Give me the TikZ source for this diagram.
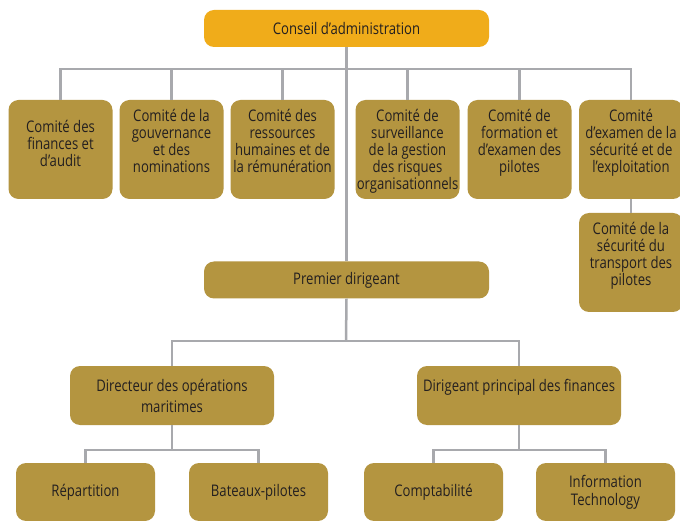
\documentclass[tikz,border=0pt]{standalone}
\usepackage{fontspec}
\setmainfont[FakeStretch=0.82]{Open Sans}
\definecolor{gold}{RGB}{180,149,64}
\definecolor{orangebox}{RGB}{240,172,26}
\definecolor{linegray}{RGB}{168,169,173}
\definecolor{txt}{RGB}{35,31,32}
\newcommand\ctxt[2][0pt]{\parbox[c][80pt][t]{104pt}{\centering\vspace*{#1}#2\par}}
\begin{document}
\begin{tikzpicture}[x=1pt,y=-1pt,
  box/.style={draw=none,fill=gold,rounded corners=10pt,inner sep=0pt,align=center,
    text=txt,font=\fontsize{16}{17}\selectfont},
  comm/.style={box,minimum width=101pt,minimum height=99pt},
  mid/.style={box,minimum width=204pt,minimum height=59pt},
  leaf/.style={box,minimum width=139pt,minimum height=58pt},
  wide/.style={box,minimum width=285pt,minimum height=37pt},
  conn/.style={draw=linegray,line width=2.5pt}]
\useasboundingbox (0,0) rectangle (680,521);
\fill[white] (0,0) rectangle (680,521);
\node[wide,fill=orangebox] (ca) at (346.5,28.5) {Conseil d’administration};
\node[comm] (c1) at (60.5,149.5) {\ctxt[11pt]{Comité des\\finances et\\d’audit}};
\node[comm] (c2) at (171.5,149.5) {\ctxt{Comité de la\\gouvernance\\et des\\nominations}};
\node[comm] (c3) at (282.5,149.5) {\ctxt{Comité des\\ressources\\humaines et de\\la rémunération}};
\node[comm] (c4) at (407.5,149.5) {\ctxt{Comité de\\surveillance\\de la gestion\\des risques\\organisationnels}};
\node[comm] (c5) at (519.5,149.5) {\ctxt{Comité de\\formation et\\d’examen des\\pilotes}};
\node[comm] (c6) at (631,149.5) {\ctxt{Comité\\d’examen de la\\sécurité et de\\l’exploitation}};
\node[comm] (c7) at (631,262.5) {\ctxt{Comité de la\\sécurité du\\transport des\\pilotes}};
\node[wide] (pd) at (346.5,280) {Premier dirigeant};
\node[mid,font=\fontsize{16}{21}\selectfont] (dom) at (172,395.5) {Directeur des opérations\\maritimes};
\node[mid,font=\fontsize{16}{21}\selectfont] (dpf) at (519,395.5) {Dirigeant principal des finances\\\mbox{}};
\node[leaf] (rep) at (85.5,492) {Répartition};
\node[leaf] (bat) at (258.5,492) {Bateaux-pilotes};
\node[leaf] (cpt) at (433.5,492) {Comptabilité};
\node[leaf,font=\fontsize{16}{18}\selectfont] (it) at (605.5,492) {Information\\Technology};
\coordinate (bar) at (346,69);
\coordinate (bar2) at (346,341);
\coordinate (bar3) at (172,450);
\coordinate (bar4) at (519,450);
\draw[conn] (ca.south) -- (pd.north);
\draw[conn] (c1.north) -- (c1.north |- bar) -- (c6.north |- bar) -- (c6.north);
\foreach \n in {c2,c3,c4,c5} \draw[conn] (\n.north) -- (\n.north |- bar);
\draw[conn] (c6.south) -- (c7.north);
\draw[conn] (pd.south) -- (bar2);
\draw[conn] (dom.north) -- (dom.north |- bar2) -- (dpf.north |- bar2) -- (dpf.north);
\draw[conn] (dom.south) -- (bar3);
\draw[conn] (rep.north) -- (rep.north |- bar3) -- (bat.north |- bar3) -- (bat.north);
\draw[conn] (dpf.south) -- (bar4);
\draw[conn] (cpt.north) -- (cpt.north |- bar4) -- (it.north |- bar4) -- (it.north);
\end{tikzpicture}
\end{document}
